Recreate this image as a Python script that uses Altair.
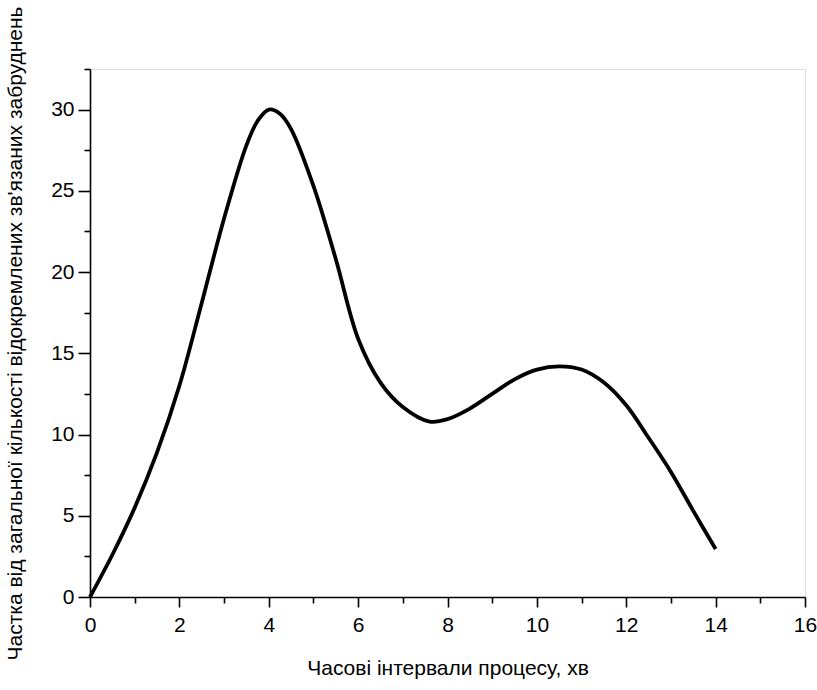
import altair as alt
import pandas as pd

# Data
time_min = [0, 0.5, 1, 1.5, 2, 2.5, 3, 3.5, 3.75, 4, 4.25, 4.5, 5, 5.5, 6, 6.5, 7, 7.6,
            8, 8.5, 9, 9.5, 10, 10.5, 11, 11.5, 12, 12.5, 13, 13.5, 14]
share = [0, 2.6, 5.5, 8.9, 13.0, 18.1, 23.3, 27.8, 29.3, 30.0, 29.75, 28.8, 25.3, 20.8,
         15.9, 13.2, 11.7, 10.8, 10.95, 11.6, 12.5, 13.4, 14.0, 14.2, 14.0,
         13.2, 11.8, 9.8, 7.7, 5.3, 2.95]

x_all = list(range(0, 17))
y_all = [0, 2.5, 5, 7.5, 10, 12.5, 15, 17.5, 20, 22.5, 25, 27.5, 30, 32.5]

x_title = "Часові інтервали процесу, хв"
y_title = "Частка від загальної кількості відокремлених зв'язаних забруднень"

df = pd.DataFrame({"t": time_min, "v": share})

FONT = "Liberation Sans"
LBL = 21
TTL = 21

x_axis = alt.Axis(
    values=x_all,
    labelExpr="datum.value % 2 === 0 ? datum.label : ''",
    tickSize={"condition": {"test": "datum.value % 2 === 0", "value": 10}, "value": 6},
    grid=False, domainColor="black", tickColor="black", domainWidth=1.6, tickWidth=1.6,
    labelFont=FONT, labelFontSize=LBL, labelColor="black", labelPadding=7,
    titleFont=FONT, titleFontSize=TTL, titleFontWeight="normal", titleColor="black",
    titlePadding=22, labelFlush=False,
)
y_axis = alt.Axis(
    values=y_all,
    labelExpr="datum.value % 5 === 0 ? datum.label : ''",
    tickSize={"condition": {"test": "datum.value % 5 === 0", "value": 12}, "value": 6},
    grid=False, domainColor="black", tickColor="black", domainWidth=1.6, tickWidth=1.6,
    labelFont=FONT, labelFontSize=LBL, labelColor="black", labelPadding=4,
    titleFont=FONT, titleFontSize=TTL, titleFontWeight="normal", titleColor="black",
    titlePadding=25, labelFlush=False,
)

chart = (
    alt.Chart(df)
    .mark_line(color="black", strokeWidth=3.8, interpolate="catmull-rom")
    .encode(
        x=alt.X("t:Q", title=x_title, scale=alt.Scale(domain=[0, 16], nice=False), axis=x_axis),
        y=alt.Y("v:Q", title=y_title, scale=alt.Scale(domain=[0, 32.5], nice=False), axis=y_axis),
    )
    .properties(
        width=715,
        height=528,
        autosize=alt.AutoSizeParams(type="none"),
        padding={"left": 90, "top": 69, "right": 12, "bottom": 93},
    )
    .configure_view(stroke=None)
    .configure(background="white")
)

chart.save("out.html", embed_options={"renderer": "svg", "actions": False})
